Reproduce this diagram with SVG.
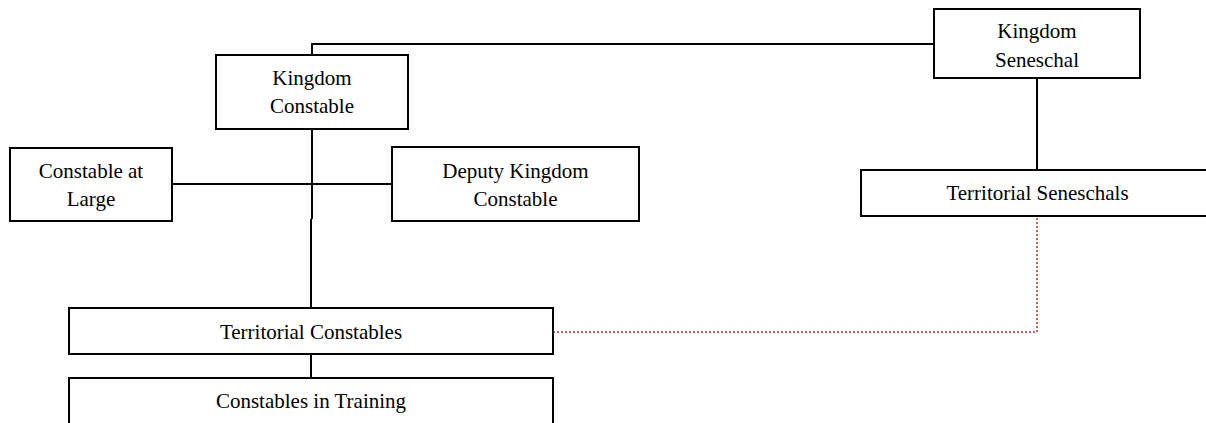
<svg xmlns="http://www.w3.org/2000/svg" width="1206" height="423" viewBox="0 0 1206 423">
<style>
.box{fill:#fff;stroke:#000;stroke-width:2}
.lbl{font-family:"Liberation Serif","Times New Roman",serif;font-size:21px;fill:#000;text-anchor:middle}
.ln{fill:none;stroke:#000;stroke-width:2}
.dot{fill:none;stroke:#d42020;stroke-width:1.5;stroke-dasharray:2,2}
</style>
<rect width="1206" height="423" fill="#fff"/>
<g id="connectors">
<polyline class="ln" points="312,55 312,44 934,44"/>
<line class="ln" x1="1037" y1="78" x2="1037" y2="170"/>
<line class="ln" x1="172" y1="184" x2="392" y2="184"/>
<line class="ln" x1="312" y1="129" x2="312" y2="219"/>
<line class="ln" x1="311" y1="219" x2="311" y2="308"/>
<line class="ln" x1="311" y1="354" x2="311" y2="378"/>
<polyline class="dot" points="553,332 1037,332 1037,217"/>
</g>
<g id="kingdom-constable">
<rect class="box" x="216" y="55" width="192" height="74"/>
<text class="lbl" x="312" y="85">Kingdom</text>
<text class="lbl" x="312" y="113">Constable</text>
</g>
<g id="kingdom-seneschal">
<rect class="box" x="934" y="9" width="206" height="69"/>
<text class="lbl" x="1037" y="38">Kingdom</text>
<text class="lbl" x="1037" y="67">Seneschal</text>
</g>
<g id="constable-at-large">
<rect class="box" x="10" y="148" width="162" height="73"/>
<text class="lbl" x="91" y="178">Constable at</text>
<text class="lbl" x="91" y="206">Large</text>
</g>
<g id="deputy-kingdom-constable">
<rect class="box" x="392" y="147" width="247" height="74"/>
<text class="lbl" x="515.5" y="178">Deputy Kingdom</text>
<text class="lbl" x="515.5" y="206">Constable</text>
</g>
<g id="territorial-seneschals">
<rect class="box" x="861" y="170" width="353" height="46"/>
<text class="lbl" x="1037.5" y="200">Territorial Seneschals</text>
</g>
<g id="territorial-constables">
<rect class="box" x="69" y="308" width="484" height="46"/>
<text class="lbl" x="311" y="339">Territorial Constables</text>
</g>
<g id="constables-in-training">
<rect class="box" x="69" y="378" width="484" height="70"/>
<text class="lbl" x="311" y="408">Constables in Training</text>
</g>
</svg>
